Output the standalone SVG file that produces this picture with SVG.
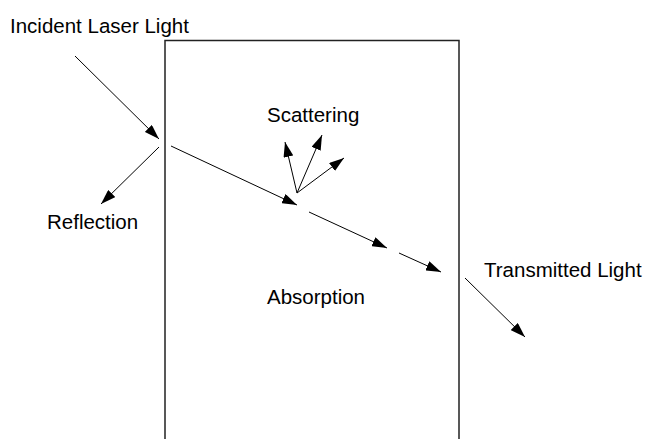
<svg xmlns="http://www.w3.org/2000/svg" width="651" height="439" viewBox="0 0 651 439">
<defs>
<marker id="ah" markerUnits="userSpaceOnUse" markerWidth="15" markerHeight="10" refX="15" refY="5" orient="auto" viewBox="0 0 15 10">
<path d="M0,0 L15,5 L0,10 z" fill="#000"/>
</marker>
</defs>
<style>
.lbl{font-family:"Liberation Sans",Arial,sans-serif;font-size:20.5px;fill:#000}
.ray{stroke:#000;stroke-width:1;fill:none;marker-end:url(#ah)}
.box{stroke:#222;stroke-width:1.5;fill:none}
</style>
<rect width="651" height="439" fill="#fff"/>
<g id="sample">
<path class="box" d="M165,445 V40.5 H459 V445"/>
</g>
<g id="labels">
<text class="lbl" x="10" y="33">Incident Laser Light</text>
<text class="lbl" x="47" y="229">Reflection</text>
<text class="lbl" x="267" y="122">Scattering</text>
<text class="lbl" x="267" y="304">Absorption</text>
<text class="lbl" x="484" y="277">Transmitted Light</text>
</g>
<g id="connectors">
<line class="ray" x1="75" y1="56" x2="159" y2="139"/>
<line class="ray" x1="159" y1="147" x2="101" y2="204"/>
<line class="ray" x1="171" y1="146" x2="297" y2="205"/>
<line class="ray" x1="309" y1="212" x2="387" y2="248"/>
<line class="ray" x1="399" y1="253" x2="441" y2="272"/>
<line class="ray" x1="465" y1="278" x2="525" y2="337"/>
<line class="ray" x1="297" y1="193" x2="285" y2="142"/>
<line class="ray" x1="297" y1="193" x2="322" y2="135"/>
<line class="ray" x1="297" y1="193" x2="344" y2="158"/>
</g>
</svg>
